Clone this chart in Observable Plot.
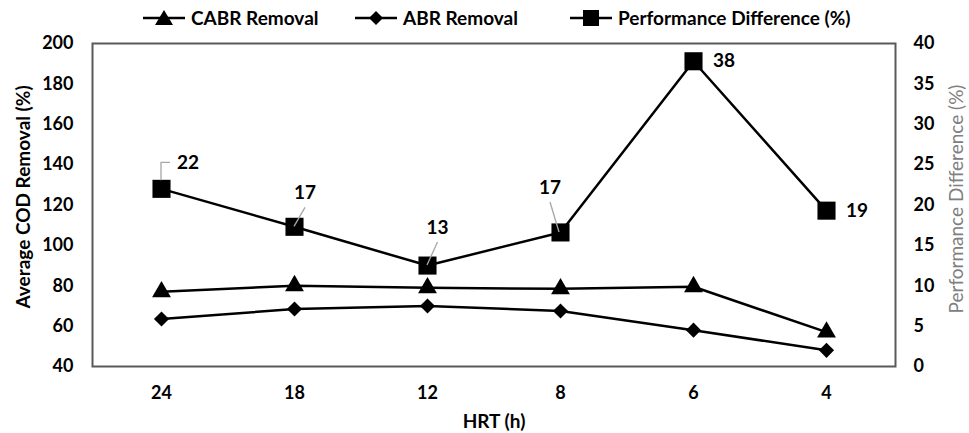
<!DOCTYPE html>
<html>
<head>
<meta charset="utf-8">
<script src="https://cdn.jsdelivr.net/npm/d3@7"></script>
<script src="https://cdn.jsdelivr.net/npm/@observablehq/plot@0.6"></script>
<style>
  html, body { margin: 0; padding: 0; background: #fff; }
  #wrap { width: 969px; height: 433px; position: relative; overflow: hidden; font-family: Lato, "Open Sans", sans-serif; }
  #legend { position: relative; height: 36px; width: 969px; }
  .item { position: absolute; top: 6px; display: flex; align-items: center; font-weight: bold; font-size: 19px; color: #000; }
  .item svg { margin-right: 4px; }
  #chart svg { display: block; overflow: visible; }
</style>
</head>
<body>
<div id="wrap">
  <div id="legend"></div>
  <div id="chart"></div>
</div>
<script>
// ---- data ----
const hrt = ["24", "18", "12", "8", "6", "4"];
const cabrRemoval = [77, 80, 79, 78.5, 79.5, 57];
const abrRemoval = [63.5, 68.5, 70, 67.5, 58, 48];
const perfDiff = [22, 17.3, 12.5, 16.6, 37.8, 19.3];
const perfLabels = ["22", "17", "13", "17", "38", "19"];
const leftTicks = [40, 60, 80, 100, 120, 140, 160, 180, 200];
const rightTicks = [0, 5, 10, 15, 20, 25, 30, 35, 40];
const seriesNames = ["CABR Removal", "ABR Removal", "Performance Difference (%)"];

// left axis domain [40,200] ; right axis domain [0,40]
const toLeft = v => 40 + v * 4;
const fromLeft = v => (v - 40) / 4;

const rows = hrt.map((h, i) => ({
  hrt: h, cabr: cabrRemoval[i], abr: abrRemoval[i],
  perf: toLeft(perfDiff[i]), label: perfLabels[i]
}));

// label layout (pixel offsets relative to the marker)
const labelLayout = [
  {dx: 27, dy: -26, leader: [[0, -8], [0, -26], [9, -26]]},
  {dx: 11, dy: -34, leader: [[11, -19], [0, 0]]},
  {dx: 10.5, dy: -38, leader: [[10.5, -23], [0, 0]]},
  {dx: -10, dy: -45, leader: [[-10, -30], [-1, 0]]},
  {dx: 31, dy: 0, leader: null},
  {dx: 31, dy: 0, leader: null}
];

// ---- legend ----
const legend = d3.select("#legend");
const legendLeft = [143, 355, 570];
const shapes = ["triangle", "diamond", "square"];
seriesNames.forEach((name, i) => {
  const item = legend.append("div").attr("class", "item").style("left", legendLeft[i] + "px");
  const s = item.append("svg").attr("width", 44).attr("height", 20);
  s.append("line").attr("x1", 0).attr("x2", 42).attr("y1", 10).attr("y2", 10)
    .attr("stroke", "#000").attr("stroke-width", 2.5);
  if (shapes[i] === "triangle") s.append("path").attr("d", "M21,2 L30,17 L12,17 Z").attr("fill", "#000");
  if (shapes[i] === "diamond") s.append("path").attr("d", "M21,3 L28,10 L21,17 L14,10 Z").attr("fill", "#000");
  if (shapes[i] === "square") s.append("rect").attr("x", 13).attr("y", 2).attr("width", 16).attr("height", 16).attr("fill", "#000");
  item.append("span").text(name);
});

// ---- chart ----
const annotate = (index, scales, values, dimensions) => {
  const g = d3.create("svg:g");
  rows.forEach((r, i) => {
    const x = scales.x(r.hrt), y = scales.y(r.perf);
    const L = labelLayout[i];
    if (L.leader) {
      g.append("polyline")
        .attr("points", L.leader.map(([a, b]) => `${x + a},${y + b}`).join(" "))
        .attr("fill", "none").attr("stroke", "#a6a6a6").attr("stroke-width", 1.3);
    }
    g.append("text").attr("x", x + L.dx).attr("y", y + L.dy)
      .attr("text-anchor", "middle").attr("dy", "0.35em")
      .attr("font-family", "Lato, sans-serif").attr("font-weight", "bold")
      .attr("font-size", 19).attr("fill", "#000").text(r.label);
  });
  return g.node();
};

const chart = Plot.plot({
  width: 969,
  height: 397,
  marginLeft: 92,
  marginRight: 74,
  marginTop: 7,
  marginBottom: 67,
  style: {fontFamily: "Lato, sans-serif", background: "#fff", color: "#000"},
  x: {type: "point", domain: hrt, padding: 0.5},
  y: {domain: [40, 200]},
  marks: [
    Plot.axisX({tickSize: 0, tickPadding: 20, fontSize: 18, fontWeight: "bold", label: null}),
    Plot.axisY(leftTicks, {anchor: "left", tickSize: 0, tickPadding: 19, fontSize: 18, fontWeight: "bold", label: null}),
    Plot.axisY(rightTicks.map(toLeft), {anchor: "right", tickSize: 0, tickPadding: 18, fontSize: 18, fontWeight: "bold", tickFormat: d => fromLeft(d), label: null}),
    Plot.text(["HRT (h)"], {frameAnchor: "bottom", lineAnchor: "middle", textAnchor: "middle", dy: 55, fontSize: 19, fontWeight: "bold", fill: "#000"}),
    Plot.text(["Average COD Removal (%)"], {frameAnchor: "left", textAnchor: "middle", lineAnchor: "middle", dx: -69, dy: -8, rotate: -90, fontSize: 19, fontWeight: "bold", fill: "#000"}),
    Plot.text(["Performance Difference (%)"], {frameAnchor: "right", textAnchor: "middle", lineAnchor: "middle", dx: 61, dy: -6, rotate: -90, fontSize: 19, fill: "#808080"}),
    Plot.frame({stroke: "#595959", strokeWidth: 2}),
    Plot.line(rows, {x: "hrt", y: "cabr", stroke: "#000", strokeWidth: 2.5}),
    Plot.line(rows, {x: "hrt", y: "abr", stroke: "#000", strokeWidth: 2.5}),
    Plot.line(rows, {x: "hrt", y: "perf", stroke: "#000", strokeWidth: 2.5}),
    Plot.dot(rows, {x: "hrt", y: "cabr", symbol: "triangle", r: 7, fill: "#000", stroke: null}),
    Plot.dot(rows, {x: "hrt", y: "abr", symbol: "diamond2", r: 6.8, fill: "#000", stroke: null}),
    Plot.dot(rows, {x: "hrt", y: "perf", symbol: "square", r: 10.2, fill: "#000", stroke: null}),
    annotate
  ]
});
document.getElementById("chart").appendChild(chart);
</script>
</body>
</html>
